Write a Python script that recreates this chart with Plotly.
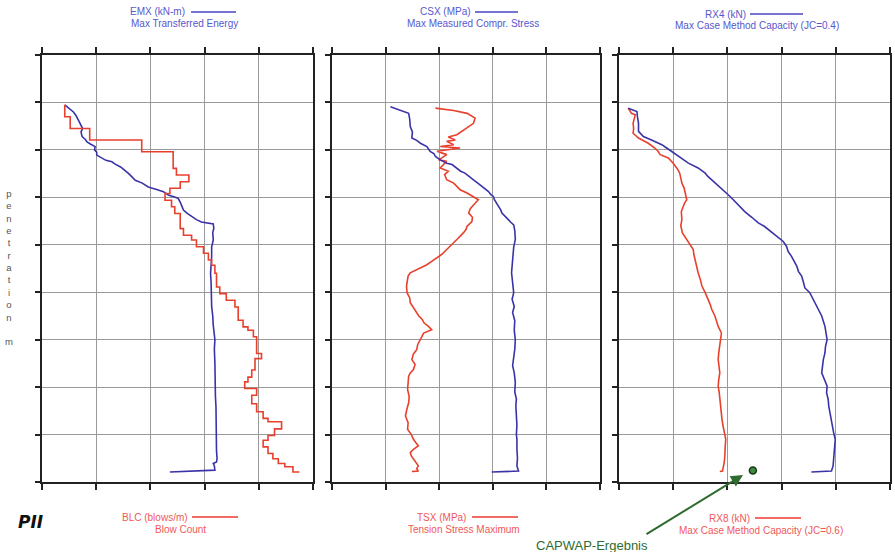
import plotly.graph_objects as go

W, H = 895, 552

# ---------------- data (depth in grid units, value in grid units) ----------------
emx_depth = [1.05, 1.12, 1.20, 1.28, 1.37, 1.45, 1.55, 1.62, 1.72, 1.78,
             1.83, 1.88, 1.93, 2.00, 2.05, 2.11, 2.16, 2.22, 2.25, 2.30,
             2.36, 2.43, 2.50, 2.57, 2.64, 2.70, 2.78, 2.83, 2.88, 2.95,
             3.02, 3.10, 3.18, 3.27, 3.34, 3.41, 3.47, 3.52, 3.56, 3.65,
             3.75, 3.90, 4.05, 4.25, 4.40, 4.60, 4.80, 5.00, 5.30, 5.50,
             5.70, 6.00, 6.20, 6.50, 6.72, 7.00, 7.20, 7.42, 7.70, 7.90,
             8.12, 8.35, 8.50, 8.58, 8.61, 8.66, 8.75, 8.79]
emx_value = [0.42, 0.50, 0.58, 0.63, 0.67, 0.70, 0.75, 0.72, 0.74, 0.80,
             0.83, 0.90, 0.98, 0.97, 1.01, 1.01, 1.10, 1.18, 1.29, 1.35,
             1.45, 1.53, 1.60, 1.66, 1.72, 1.85, 1.96, 2.10, 2.24, 2.33,
             2.51, 2.55, 2.58, 2.61, 2.68, 2.76, 2.85, 2.94, 3.16, 3.17,
             3.15, 3.16, 3.13, 3.13, 3.12, 3.11, 3.12, 3.12, 3.13, 3.15,
             3.16, 3.19, 3.18, 3.19, 3.19, 3.20, 3.20, 3.21, 3.21, 3.22,
             3.22, 3.22, 3.23, 3.22, 3.16, 3.18, 3.19, 2.36]

blc_depth = [1.05, 1.30, 1.55, 1.79, 2.04, 2.39, 2.53, 2.67, 2.81, 2.92,
             3.06, 3.20, 3.34, 3.66, 3.80, 3.90, 4.04, 4.18, 4.32, 4.43,
             4.60, 4.89, 5.03, 5.17, 5.31, 5.59, 5.73, 5.80, 5.94, 6.29,
             6.40, 6.64, 6.79, 6.89, 7.03, 7.17, 7.35, 7.52, 7.66, 7.73,
             7.88, 8.02, 8.12, 8.26, 8.40, 8.51, 8.61, 8.68, 8.79]
blc_value = [0.42, 0.52, 0.88, 1.84, 2.42, 2.48, 2.71, 2.55, 2.36, 2.27,
             2.39, 2.45, 2.55, 2.61, 2.76, 2.85, 2.98, 3.07, 3.13, 3.19,
             3.22, 3.28, 3.40, 3.56, 3.62, 3.71, 3.80, 3.90, 3.96, 4.05,
             3.93, 3.87, 3.80, 3.74, 3.96, 3.87, 3.96, 4.08, 4.17, 4.42,
             4.29, 4.17, 4.08, 4.17, 4.26, 4.36, 4.48, 4.63, 4.75]

csx_depth = [1.09, 1.16, 1.23, 1.35, 1.51, 1.62, 1.75, 1.80, 1.86, 1.93,
             2.03, 2.08, 2.14, 2.21, 2.28, 2.31, 2.38, 2.45, 2.49, 2.56,
             2.63, 2.70, 2.77, 2.84, 2.88, 2.94, 2.98, 3.05, 3.12, 3.20,
             3.27, 3.33, 3.40, 3.47, 3.52, 3.58, 3.70, 3.89, 4.05, 4.24,
             4.40, 4.59, 4.80, 5.01, 5.15, 5.30, 5.43, 5.60, 5.80, 6.00,
             6.20, 6.40, 6.55, 6.70, 6.90, 7.10, 7.25, 7.40, 7.60, 7.80,
             8.00, 8.10, 8.30, 8.50, 8.66, 8.77, 8.79]
csx_value = [1.09, 1.27, 1.43, 1.45, 1.46, 1.50, 1.49, 1.58, 1.65, 1.77,
             1.83, 1.90, 1.93, 2.02, 2.14, 2.24, 2.33, 2.40, 2.48, 2.55,
             2.64, 2.72, 2.80, 2.86, 2.92, 2.96, 3.01, 3.03, 3.07, 3.10,
             3.15, 3.17, 3.24, 3.29, 3.33, 3.39, 3.41, 3.42, 3.39, 3.38,
             3.36, 3.35, 3.37, 3.39, 3.36, 3.40, 3.37, 3.41, 3.40, 3.42,
             3.41, 3.39, 3.37, 3.40, 3.42, 3.41, 3.44, 3.43, 3.44, 3.45,
             3.44, 3.45, 3.45, 3.46, 3.45, 3.48, 2.98]

tsx_depth = [1.12, 1.17, 1.23, 1.33, 1.44, 1.54, 1.68, 1.73, 1.79, 1.82,
             1.89, 1.93, 1.96, 2.03, 2.10, 2.17, 2.21, 2.24, 2.31, 2.38,
             2.45, 2.52, 2.63, 2.70, 2.77, 2.84, 2.91, 2.98, 3.05, 3.16,
             3.24, 3.33, 3.42, 3.51, 3.61, 3.68, 3.75, 3.89, 4.00, 4.10,
             4.20, 4.28, 4.35, 4.42, 4.52, 4.59, 4.66, 4.73, 4.87, 5.01,
             5.12, 5.22, 5.32, 5.43, 5.50, 5.57, 5.65, 5.72, 5.79, 5.86,
             5.93, 6.00, 6.10, 6.21, 6.30, 6.42, 6.52, 6.63, 6.70, 6.77,
             6.90, 7.05, 7.20, 7.33, 7.45, 7.61, 7.75, 7.89, 8.00, 8.10,
             8.18, 8.24, 8.31, 8.38, 8.45, 8.52, 8.60, 8.66, 8.72, 8.77,
             8.78]
tsx_value = [1.93, 2.27, 2.52, 2.67, 2.64, 2.52, 2.33, 2.17, 2.30, 2.14,
             2.27, 2.02, 2.39, 1.96, 2.14, 2.05, 1.99, 2.14, 2.08, 2.02,
             2.17, 2.10, 2.14, 2.27, 2.33, 2.39, 2.52, 2.64, 2.73, 2.64,
             2.58, 2.55, 2.62, 2.61, 2.52, 2.50, 2.45, 2.33, 2.24, 2.14,
             2.05, 1.96, 1.86, 1.77, 1.58, 1.46, 1.42, 1.41, 1.39, 1.40,
             1.45, 1.46, 1.52, 1.58, 1.62, 1.68, 1.72, 1.80, 1.86, 1.71,
             1.68, 1.65, 1.60, 1.58, 1.52, 1.49, 1.55, 1.52, 1.46, 1.43,
             1.42, 1.41, 1.44, 1.43, 1.40, 1.37, 1.42, 1.41, 1.48, 1.52,
             1.57, 1.61, 1.52, 1.46, 1.48, 1.52, 1.56, 1.61, 1.58, 1.61,
             1.49]

rx4_depth = [1.12, 1.16, 1.19, 1.30, 1.44, 1.61, 1.72, 1.79, 1.89, 1.96,
             2.03, 2.14, 2.21, 2.28, 2.38, 2.49, 2.56, 2.63, 2.70, 2.77,
             2.86, 2.95, 3.04, 3.12, 3.21, 3.30, 3.42, 3.54, 3.61, 3.68,
             3.75, 3.82, 3.93, 4.03, 4.14, 4.24, 4.35, 4.45, 4.56, 4.66,
             4.78, 4.91, 5.01, 5.12, 5.22, 5.36, 5.50, 5.61, 5.72, 5.86,
             6.00, 6.14, 6.28, 6.42, 6.56, 6.70, 6.84, 6.98, 7.12, 7.26,
             7.40, 7.54, 7.68, 7.82, 7.96, 8.10, 8.24, 8.38, 8.52, 8.66,
             8.77, 8.79]
rx4_value = [0.17, 0.26, 0.33, 0.34, 0.36, 0.36, 0.45, 0.60, 0.79, 0.88,
             0.97, 1.09, 1.18, 1.28, 1.46, 1.59, 1.64, 1.71, 1.78, 1.86,
             1.95, 2.02, 2.10, 2.17, 2.25, 2.32, 2.45, 2.57, 2.68, 2.76,
             2.84, 2.91, 3.03, 3.09, 3.12, 3.18, 3.24, 3.28, 3.31, 3.37,
             3.40, 3.43, 3.52, 3.57, 3.62, 3.67, 3.74, 3.77, 3.80, 3.82,
             3.84, 3.81, 3.80, 3.77, 3.76, 3.74, 3.79, 3.84, 3.83, 3.86,
             3.87, 3.89, 3.92, 3.93, 3.96, 3.99, 3.98, 3.97, 3.96, 3.95,
             3.92, 3.55]

rx8_depth = [1.12, 1.23, 1.26, 1.35, 1.44, 1.55, 1.65, 1.75, 1.86, 1.96,
             2.03, 2.10, 2.17, 2.28, 2.35, 2.42, 2.49, 2.56, 2.63, 2.70,
             2.80, 2.91, 3.05, 3.12, 3.19, 3.30, 3.47, 3.60, 3.75, 3.85,
             3.96, 4.03, 4.10, 4.20, 4.31, 4.45, 4.59, 4.73, 4.87, 5.01,
             5.15, 5.25, 5.36, 5.43, 5.50, 5.61, 5.72, 5.86, 6.00, 6.14,
             6.28, 6.42, 6.56, 6.70, 6.84, 6.98, 7.12, 7.26, 7.40, 7.54,
             7.68, 7.82, 7.96, 8.10, 8.24, 8.38, 8.50, 8.59, 8.68, 8.77,
             8.78]
rx8_value = [0.17, 0.23, 0.30, 0.28, 0.26, 0.27, 0.26, 0.36, 0.54, 0.66,
             0.72, 0.76, 0.91, 1.00, 1.05, 1.09, 1.12, 1.13, 1.15, 1.16,
             1.20, 1.22, 1.25, 1.21, 1.19, 1.15, 1.16, 1.14, 1.17, 1.23,
             1.28, 1.33, 1.37, 1.38, 1.40, 1.43, 1.46, 1.50, 1.53, 1.59,
             1.65, 1.68, 1.71, 1.74, 1.77, 1.80, 1.83, 1.89, 1.87, 1.86,
             1.84, 1.83, 1.85, 1.86, 1.84, 1.83, 1.85, 1.86, 1.88, 1.89,
             1.90, 1.92, 1.95, 1.97, 1.96, 1.96, 1.95, 1.94, 1.92, 1.91,
             1.86]

capwap_value = [2.47]
capwap_depth = [8.76]

top_labels = [("EMX (kN-m)", "Max Transferred Energy"),
              ("CSX (MPa)", "Max Measured Compr. Stress"),
              ("RX4 (kN)", "Max Case Method Capacity (JC=0.4)")]
bottom_labels = [("BLC (blows/m)", "Blow Count"),
                 ("TSX (MPa)", "Tension Stress Maximum"),
                 ("RX8 (kN)", "Max Case Method Capacity (JC=0.6)")]

BLUE = "#3a33a8"
RED = "#e8402c"
BLUE_TXT = "#5858cc"
RED_TXT = "#f05858"
GREEN = "#2f6b2f"
FONT = "Liberation Sans, Arial, sans-serif"


def px(x):
    return x / W


def py(y):
    return 1 - y / H


panels_px = [(42, 313), (332, 600), (619, 890)]
top_px, bot_px = 55, 482

fig = go.Figure()

series = [
    (1, emx_value, emx_depth, BLUE, "linear"),
    (1, blc_value, blc_depth, RED, "vh"),
    (2, tsx_value, tsx_depth, RED, "linear"),
    (2, csx_value, csx_depth, BLUE, "linear"),
    (3, rx8_value, rx8_depth, RED, "linear"),
    (3, rx4_value, rx4_depth, BLUE, "linear"),
]
for k, xv, yv, col, shape in series:
    sfx = "" if k == 1 else str(k)
    fig.add_trace(go.Scatter(x=xv, y=yv, mode="lines", xaxis="x" + sfx, yaxis="y" + sfx,
                             line=dict(color=col, width=1.6, shape=shape),
                             showlegend=False, hoverinfo="skip"))

fig.add_trace(go.Scatter(x=capwap_value, y=capwap_depth, mode="markers", xaxis="x3", yaxis="y3",
                         marker=dict(size=7, color="#3f8a3f", line=dict(color="#163816", width=1.5)),
                         showlegend=False, hoverinfo="skip"))

layout = dict(width=W, height=H, margin=dict(l=0, r=0, t=0, b=0),
              paper_bgcolor="white", plot_bgcolor="white", showlegend=False)

for i, (x0, x1) in enumerate(panels_px):
    sfx = "" if i == 0 else str(i + 1)
    layout["xaxis" + sfx] = dict(domain=[px(x0), px(x1)], range=[0, 5], tick0=0, dtick=1,
                                 showticklabels=False, ticks="outside", ticklen=6, tickwidth=1.5,
                                 tickcolor="#222", showgrid=True, gridcolor="#9a9a9a", gridwidth=1,
                                 showline=True, linecolor="#222", linewidth=2, mirror="ticks",
                                 zeroline=False, anchor="y" + sfx, fixedrange=True)
    layout["yaxis" + sfx] = dict(domain=[py(bot_px), py(top_px)], range=[9, 0], tick0=0, dtick=1,
                                 showticklabels=False, ticks="outside", ticklen=5, tickwidth=1.5,
                                 tickcolor="#222", showgrid=True, gridcolor="#9a9a9a", gridwidth=1,
                                 showline=True, linecolor="#222", linewidth=2, mirror=True,
                                 zeroline=False, anchor="x" + sfx, fixedrange=True)

annotations = []
shapes = []

top_pos = [((128, 12), (191, 236), (129, 24)),
           ((418, 12), (475, 518), (405, 24)),
           ((703, 14), (750, 803), (673, 26))]
bot_pos = [((120, 517), (192, 238), (153, 529)),
           ((415, 517), (472, 518), (406, 529)),
           ((707, 518), (755, 801), (677, 530))]

for labels, poss, tcol, lcol in [(top_labels, top_pos, BLUE_TXT, "#4a44c4"),
                                  (bottom_labels, bot_pos, RED_TXT, "#ec3a30")]:
    for (l1, l2), ((ax1, ay1), (lx0, lx1), (ax2, ay2)) in zip(labels, poss):
        annotations.append(dict(text=l1, x=px(ax1), y=py(ay1), xref="paper", yref="paper",
                                xanchor="left", yanchor="middle", showarrow=False,
                                font=dict(family=FONT, size=10, color=tcol)))
        annotations.append(dict(text=l2, x=px(ax2), y=py(ay2), xref="paper", yref="paper",
                                xanchor="left", yanchor="middle", showarrow=False,
                                font=dict(family=FONT, size=10, color=tcol)))
        shapes.append(dict(type="line", xref="paper", yref="paper",
                           x0=px(lx0), x1=px(lx1), y0=py(ay1), y1=py(ay1),
                           line=dict(color=lcol, width=1.5)))

# vertical axis title
annotations.append(dict(text="<br>".join(list("penetration")) + "<br><br>m",
                        x=px(9), y=py(267), xref="paper", yref="paper",
                        xanchor="center", yanchor="middle", showarrow=False, align="center",
                        font=dict(family=FONT, size=9.5, color="#555555")))

# logo
annotations.append(dict(text="<b><i>PII</i></b>", x=px(30), y=py(522), xref="paper", yref="paper",
                        xanchor="center", yanchor="middle", showarrow=False,
                        font=dict(family="DejaVu Sans, sans-serif", size=17, color="#111111")))

# CAPWAP arrow and label
annotations.append(dict(text="", x=px(743), y=py(475), xref="paper", yref="paper",
                        ax=645 - 743, ay=535 - 475, showarrow=True, arrowhead=2,
                        arrowsize=1.2, arrowwidth=2, arrowcolor=GREEN))
annotations.append(dict(text="CAPWAP-Ergebnis", x=px(592), y=py(545), xref="paper", yref="paper",
                        xanchor="center", yanchor="middle", showarrow=False,
                        font=dict(family=FONT, size=13, color=GREEN)))

layout["annotations"] = annotations
layout["shapes"] = shapes
fig.update_layout(**layout)

fig.write_html("out.html", config={"displayModeBar": False},
               post_script="document.body.style.margin='0';document.body.style.overflow='hidden';")
